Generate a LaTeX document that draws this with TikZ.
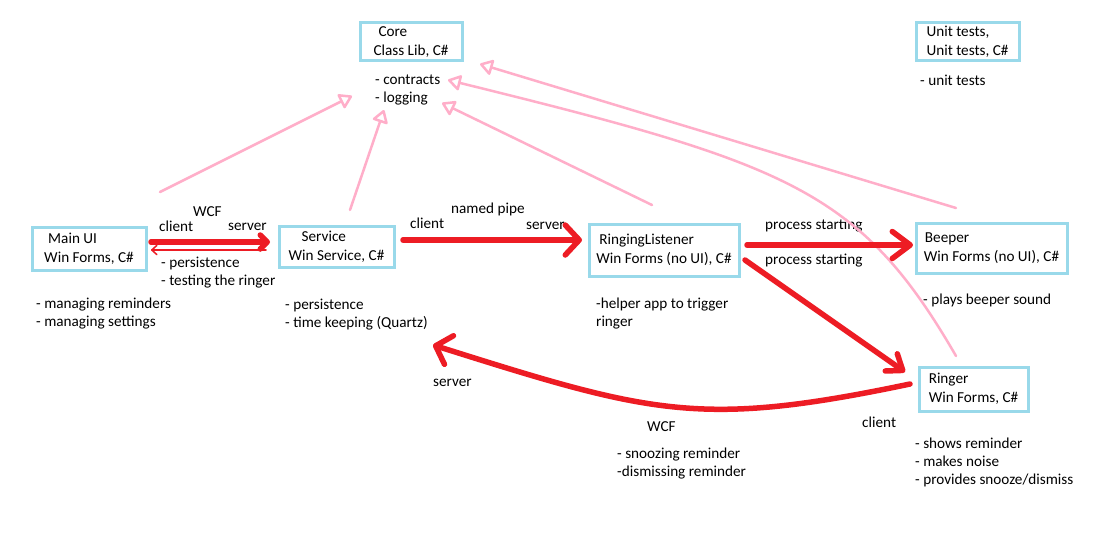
\documentclass[tikz,border=0pt]{standalone}
\usepackage{fontspec}
\setmainfont{Carlito}
\usetikzlibrary{arrows.meta}
\definecolor{boxblue}{RGB}{153,217,234}
\definecolor{paintred}{RGB}{237,28,36}
\definecolor{paintpink}{RGB}{255,174,201}
\begin{document}
\begin{tikzpicture}[x=1pt,y=-1pt,
  font=\fontsize{15.2}{18}\selectfont,
  box/.style={draw=boxblue, line width=3pt, align=left, inner sep=0pt,
              font=\fontsize{15.2}{19}\selectfont},
  txt/.style={anchor=west, inner sep=0pt, text height=10pt, text depth=3pt},
  note/.style={anchor=north west, inner sep=0pt, align=left},
  redline/.style={draw=paintred, line width=5.5pt, line cap=round, line join=round},
  redthin/.style={draw=paintred, line width=1.5pt, line cap=round, line join=round},
  pinkline/.style={draw=paintpink, line width=2.5pt, line cap=round, line join=round,
                   -{Triangle[open, round, length=14pt, width=17pt]}},
]
\useasboundingbox[fill=white] (0,0) rectangle (1102,543);

% components
\node[box, minimum width=102pt, minimum height=38pt] (core) at (411,42)
  {\hspace*{5pt}Core\\Class Lib, C\#};
\node[box, minimum width=103pt, minimum height=38pt] (unit) at (967.5,42)
  {Unit tests,\\Unit tests, C\#};
\node[box, minimum width=114pt, minimum height=43pt] (main) at (89,248.5)
  {\hspace*{4pt}Main UI\\Win Forms, C\#};
\node[box, minimum width=115pt, minimum height=41pt] (service) at (336.5,247)
  {\hspace*{13pt}Service\\Win Service, C\#};
\node[box, minimum width=150pt, minimum height=52pt] (listener) at (664,250)
  {\hspace*{3pt}RingingListener\\Win Forms (no UI), C\#};
\node[box, minimum width=151pt, minimum height=50pt] (beeper) at (991.5,248)
  {\hspace*{1pt}Beeper\\Win Forms (no UI), C\#};
\node[box, minimum width=109pt, minimum height=44pt] (ringer) at (973.5,389)
  {Ringer\\Win Forms, C\#};

% notes under the components
\node[note] (coreNotes) at (375,75) {- contracts\\- logging};
\node[txt] (unitNotes) at (920,82) {- unit tests};
\node[note] (mainNotes) at (36,298) {- managing reminders\\- managing settings};
\node[note] (serviceNotes) at (285,299) {- persistence\\- time keeping (Quartz)};
\node[note] (listenerNotes) at (596,298) {-helper app to trigger\\ringer};
\node[txt] (beeperNotes) at (923,301) {- plays beeper sound};
\node[note] (ringerNotes) at (915,438) {- shows reminder\\- makes noise\\- provides snooze/dismiss};

% connector labels
\node[txt] (wcfA) at (193,213) {WCF};
\node[txt] (clientA) at (159,228) {client};
\node[txt] (serverA) at (228,227) {server};
\node[note] (wcfANotes) at (161,257) {- persistence\\- testing the ringer};
\node[txt] (pipe) at (451,210) {named pipe};
\node[txt] (clientB) at (410,225) {client};
\node[txt] (serverB) at (526,226) {server};
\node[txt] (startA) at (765,226) {process starting};
\node[txt] (startB) at (765,261) {process starting};
\node[txt] (serverC) at (433,383) {server};
\node[txt] (wcfC) at (647,428) {WCF};
\node[txt] (clientC) at (862,424) {client};
\node[note] (wcfCNotes) at (617,448) {- snoozing reminder\\-dismissing reminder};

% connector end points
\coordinate (mainOut) at (151,242);  \coordinate (serviceIn) at (270,242);
\coordinate (serviceBack) at (266,250); \coordinate (mainBack) at (151,250);
\coordinate (serviceOut) at (403,240); \coordinate (listenerIn) at (582,240);
\coordinate (listenerOutA) at (747,245); \coordinate (beeperIn) at (913,245);
\coordinate (listenerOutB) at (745,260); \coordinate (ringerIn) at (905,372);
\coordinate (ringerOut) at (910,384); \coordinate (serviceIn2) at (433,345);
\coordinate (mainUp) at (160,192); \coordinate (coreA) at (352,96);
\coordinate (serviceUp) at (350,210); \coordinate (coreB) at (384,110);
\coordinate (listenerUp) at (652,205); \coordinate (coreC) at (442,103);
\coordinate (ringerUp) at (956,356); \coordinate (coreD) at (448,80);
\coordinate (beeperUp) at (956,208); \coordinate (coreE) at (480,64);

% dependencies on Core
\draw[pinkline] (mainUp) -- (coreA);
\draw[pinkline] (serviceUp) -- (coreB);
\draw[pinkline] (listenerUp) -- (coreC);
\draw[pinkline] (beeperUp) -- (coreE);
\draw[pinkline] (ringerUp) .. controls (860,190) and (789,164) .. (coreD);

% communication
\draw[redline, -{Straight Barb[round, length=7pt, width=14pt]}] (mainOut) -- (serviceIn);
\draw[redthin, -{Straight Barb[round, length=5pt, width=9pt]}] (serviceBack) -- (mainBack);
\draw[redline, -{Straight Barb[round, length=14pt, width=30pt]}] (serviceOut) -- (listenerIn);
\draw[redline, -{Straight Barb[round, length=18pt, width=27pt]}] (listenerOutA) -- (beeperIn);
\draw[redline, -{Straight Barb[round, length=14pt, width=21pt]}] (listenerOutB) -- (ringerIn);
\draw[redline, -{Straight Barb[round, length=14pt, width=30pt]}]
  (ringerOut) .. controls (700,428) and (652,414) .. (serviceIn2);
\end{tikzpicture}
\end{document}
